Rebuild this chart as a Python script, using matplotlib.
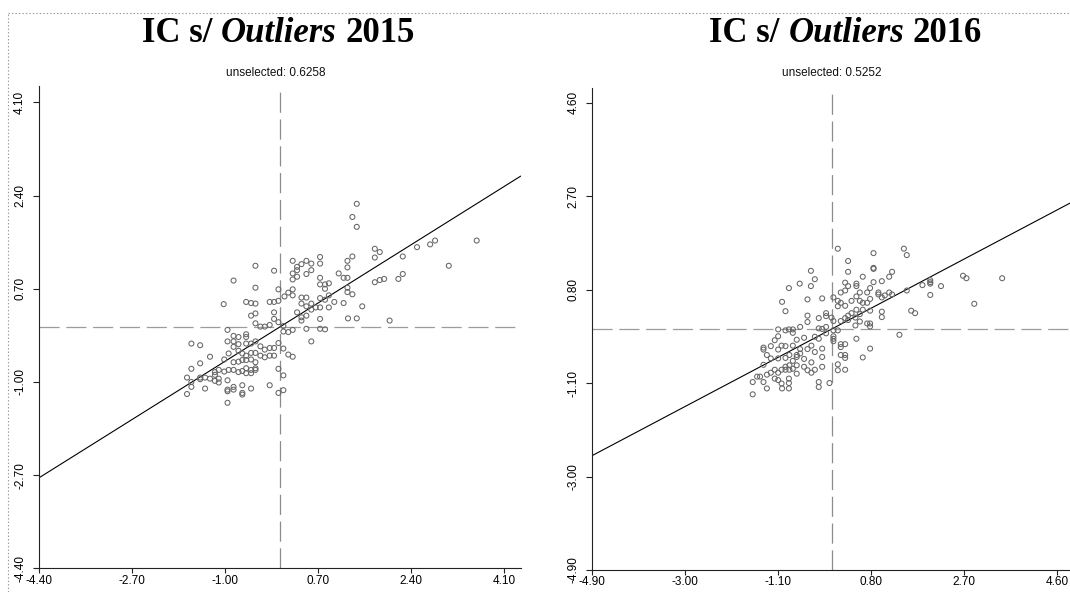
import matplotlib
matplotlib.use("Agg")
import matplotlib.pyplot as plt
from matplotlib.lines import Line2D

# Moran scatterplots: standardised value (x) vs. spatial lag (y)
titles = [("2015", "unselected: 0.6258"), ("2016", "unselected: 0.5252")]
slopes = [0.6258, 0.5252]
ticks_2015 = [-4.40, -2.70, -1.00, 0.70, 2.40, 4.10]
ticks_2016 = [-4.90, -3.00, -1.10, 0.80, 2.70, 4.60]

x_2015 = [1.41, 1.33, 1.41, 3.60, 2.84, 2.75, 2.51, 2.25, 3.09, 2.25, 2.17, 1.91, 1.83, 1.74, 2.01,
          1.74, 1.83, 1.74, 1.33, 1.24, 1.24, 1.17, 1.24, 1.08, 1.24, 1.33, 1.24, 1.51, 1.17, 1.25, 1.41,
          0.74, 0.74, 0.58, 0.49, 0.40, 0.32, 0.32, 0.24, 0.24, 0.32, 0.24, 0.58, 0.49, -0.44, -0.10, -0.84, -0.44,
          0.74, 0.74, 0.83, 0.90, 0.83, 0.74, 0.90, 0.83, 1.00, 0.90, 0.74, 0.66, 0.58, 0.58, 0.49, 0.40, 0.40,
          0.49, 0.32, 0.40, 0.49, 0.40, 0.74, 0.58, 0.49, 0.74, 0.83,
          -0.02, 0.16, 0.24, 0.09, 0.24, -0.10, -0.18, -0.02, -0.10, -0.10, -0.02, 0.07, 0.16, 0.24, 0.07,
          -0.18, -0.27, -0.35, -0.44, -0.44, -0.52, -0.44, -0.52, -0.61, -1.02,
          -0.95, -0.84, -0.75, -0.61, -0.61, -0.84, -0.95, -0.75, -0.61, -0.52, -0.44, -0.35, -0.27, -0.18, -0.10,
          -0.02, 0.07, 0.16, 0.24, -0.10, -0.18, -0.27, -0.35, -0.44, -0.52, -0.61, -0.68, -0.75, -0.84, -0.93,
          -1.01, -0.84, -0.75, -0.68, -0.61, -0.52, -0.44, -0.44, -0.52, -0.61, -0.44, -0.52, -0.61, -0.68, -0.75,
          -0.84, -0.93, -1.01, -1.11, -1.18, -1.18, -1.27, -1.36, -1.45, -1.45, -1.61, -1.69, -1.61, -1.69, -1.36,
          -1.11, -1.11, -1.18, -1.27, -1.45, -1.61, -1.61, -1.45,
          -0.95, -0.95, -0.95, -0.84, -0.84, -0.68, -0.68, -0.68, -0.52, -0.95, -0.18, -0.02, 0.07, -0.02, 0.07]
y_2015 = [2.25, 2.01, 1.83, 1.58, 1.58, 1.51, 1.46, 1.29, 1.12, 0.97, 0.88, 0.88, 0.86, 0.82, 0.12,
          1.43, 1.37, 1.27, 1.29, 1.21, 1.09, 0.90, 0.90, 0.98, 0.72, 0.60, 0.64, 0.38, 0.44, 0.16, 0.16,
          1.28, 1.16, 1.16, 1.21, 1.15, 1.10, 1.04, 1.21, 0.98, 0.92, 0.87, 1.04, 0.97, 1.12, 1.03, 0.85, 0.72,
          0.90, 0.78, 0.78, 0.80, 0.70, 0.53, 0.58, 0.50, 0.46, 0.36, 0.36, 0.36, 0.43, 0.32, 0.38, 0.43, 0.54,
          0.54, 0.27, 0.18, 0.21, 0.12, 0.15, -0.26, -0.03, -0.03, -0.04,
          0.69, 0.63, 0.69, 0.56, 0.58, 0.46, 0.46, 0.48, 0.27, 0.15, 0.09, 0.02, -0.09, -0.05, -0.08,
          0.04, 0.01, 0.01, 0.07, 0.25, 0.21, 0.43, 0.44, 0.46, 0.42,
          -0.05, -0.16, -0.18, -0.13, -0.18, -0.26, -0.26, -0.31, -0.30, -0.30, -0.26, -0.35, -0.41, -0.38, -0.38,
          -0.29, -0.39, -0.50, -0.54, -0.52, -0.52, -0.55, -0.52, -0.47, -0.47, -0.52, -0.48, -0.43, -0.36, -0.48,
          -0.59, -0.64, -0.63, -0.60, -0.60, -0.59, -0.64, -0.75, -0.78, -0.75, -0.78, -0.84, -0.84, -0.80, -0.82,
          -0.78, -0.78, -0.81, -0.78, -0.82, -0.87, -0.94, -0.92, -0.92, -0.95, -1.00, -0.92, -1.09, -1.22, -1.12,
          -0.94, -1.01, -0.98, -0.54, -0.66, -0.76, -0.30, -0.33,
          -0.97, -1.14, -1.17, -1.09, -1.14, -1.06, -1.20, -1.23, -1.12, -1.38, -1.06, -0.76, -0.88, -1.20, -1.15]

x_2016 = [0.12, 0.85, 1.47, 1.53, 0.33, 0.33, 0.85, 0.85, 0.63, 1.23, 1.17, 1.02, 0.85, -0.43, -0.35, -0.66, -0.43, -0.88,
          0.27, 0.50, 0.50, 0.33, 0.27, 0.18, 0.57, 0.72, 0.78, 0.95, 0.95, 1.02, 1.08, 1.17, 1.23, 1.53, 1.85,
          2.01, 2.01, 2.01, 2.23, 2.01, 2.68, 2.75, 3.48, 2.91, 1.62, 1.70, 1.38,
          0.03, 0.12, 0.18, 0.12, 0.27, 0.40, 0.50, 0.57, 0.63, 0.72, 0.78, 0.78, 0.63, 0.50, 0.40, 0.33, 0.27,
          0.18, 0.33, 0.48, 0.57, 0.57, 0.48, 0.72, 0.78, 0.78, 1.02, 1.02, 0.50, 0.78, 0.63,
          -0.20, -0.50, -1.02, -0.95, -0.50, -0.50, -0.27, -0.12, -0.12, -0.01, 0.03, -0.12, -0.20, -0.27, 0.03,
          0.12, -0.12, -0.27, 0.03, 0.03, 0.03, 0.18, 0.27, 0.18, 0.27, 0.27, 0.18, 0.12, 0.12, 0.27, -0.05,
          -0.27, -0.27,
          -0.65, -0.80, -0.88, -0.95, -1.10, -0.80, -1.10, -1.17, -0.72, -0.57, -0.35, -0.42, -0.50, -0.65, -0.80,
          -0.95, -1.03, -1.10, -1.25, -1.40, -1.40, -1.33, -1.25, -1.10, -0.95, -0.87, -0.72, -0.72, -0.65, -0.57,
          -0.42, -0.35, -0.20, -0.20, -0.20, -0.35, -0.42, -0.50, -0.57, -0.72, -0.80, -0.87, -0.95, -0.95, -0.87,
          -0.80, -0.72, -1.03, -1.10, -1.17, -1.25, -1.33, -1.40, -1.10, -1.17, -1.03, -0.88, -0.88, -1.02, -0.88,
          -1.33, -1.40, -1.47, -1.53, -1.62, -1.62]
y_2016 = [1.63, 1.54, 1.63, 1.50, 1.38, 1.16, 1.24, 1.22, 1.06, 1.16, 1.06, 0.97, 0.95, 1.18, 1.01, 0.92, 0.87, 0.83,
          0.94, 0.92, 0.87, 0.87, 0.78, 0.74, 0.74, 0.74, 0.83, 0.74, 0.70, 0.64, 0.68, 0.74, 0.70, 0.78, 0.89,
          0.99, 0.95, 0.92, 0.87, 0.69, 1.08, 1.03, 1.03, 0.51, 0.37, 0.32, -0.12,
          0.64, 0.57, 0.53, 0.46, 0.47, 0.57, 0.66, 0.57, 0.53, 0.53, 0.61, 0.37, 0.39, 0.39, 0.32, 0.27, 0.22,
          0.16, 0.18, 0.23, 0.30, 0.15, 0.07, 0.11, 0.11, 0.05, 0.35, 0.24, -0.20, -0.40, -0.58,
          0.62, 0.60, 0.55, 0.36, 0.27, 0.14, 0.22, 0.32, 0.26, 0.23, 0.16, 0.04, 0.00, 0.01, -0.03,
          -0.03, -0.09, -0.20, -0.15, -0.20, -0.25, -0.31, -0.31, -0.37, -0.53, -0.59, -0.53, -0.72, -0.84, -0.83, -1.10,
          -1.08, -1.18,
          0.04, -0.01, -0.01, -0.03, -0.01, -0.08, -0.15, -0.23, -0.22, -0.18, -0.16, -0.34, -0.41, -0.41, -0.34,
          -0.35, -0.34, -0.42, -0.35, -0.38, -0.42, -0.53, -0.60, -0.60, -0.59, -0.53, -0.53, -0.57, -0.50, -0.61,
          -0.68, -0.47, -0.40, -0.57, -0.77, -0.83, -0.89, -0.84, -0.77, -0.74, -0.65, -0.74, -0.77, -0.83, -0.83,
          -0.81, -0.91, -0.83, -0.89, -0.83, -0.89, -0.93, -0.73, -1.04, -1.01, -1.11, -1.10, -1.01, -1.21, -1.21,
          -1.21, -1.08, -0.97, -0.97, -1.08, -1.33]

W, H = 1070, 592
fig = plt.figure(figsize=(W / 100, H / 100), dpi=100)
fig.patch.set_facecolor("white")
plt.rcParams["lines.scale_dashes"] = False

# axes placed in pixel terms (left, bottom-from-top, right, top)
boxes = [(38.6, 568.3, 520.5, 86.0), (592.3, 570.0, 1071.6, 87.8)]
limits = [4.4, 4.9]
data = [(x_2015, y_2015, ticks_2015), (x_2016, y_2016, ticks_2016)]

for (l, b, r, t), lim, (xs, ys, tk), slope in zip(boxes, limits, data, slopes):
    ax = fig.add_axes([l / W, 1 - b / H, (r - l) / W, (b - t) / H])
    ax.set_xlim(-lim, lim)
    ax.set_ylim(-lim, lim)
    ax.axhline(0, color="#9c9c9c", lw=0.9, dashes=(14.5, 4.8), zorder=1)
    ax.axvline(0, color="#8c8c8c", lw=0.9, dashes=(14.5, 4.8), zorder=1)
    ax.axline((0, 0), slope=slope, color="black", lw=0.8, zorder=2)
    ax.scatter(xs, ys, s=13, facecolors="none", edgecolors="#666666", linewidths=0.75, zorder=3)
    for side in ("top", "right"):
        ax.spines[side].set_visible(False)
    for side in ("left", "bottom"):
        ax.spines[side].set_color("#222222")
        ax.spines[side].set_linewidth(0.8)
    ax.set_xticks(tk)
    ax.set_yticks(tk)
    ax.set_xticklabels([f"{v:.2f}" for v in tk], family="Liberation Sans", fontsize=8.5)
    ax.set_yticklabels([f"{v:.2f}" for v in tk], family="Liberation Sans", fontsize=8.5,
                       rotation=90, va="center")
    ax.tick_params(axis="x", length=3.5, width=0.8, pad=1, color="#222222")
    ax.tick_params(axis="y", length=4.5, width=0.8, pad=4.5, color="#222222")

# titles with italic "Outliers"
renderer = fig.canvas.get_renderer()
kw = dict(fontsize=25, fontweight="bold", family="Liberation Serif", va="baseline", ha="left")
p1 = fig.text(0, 0, "I I", **kw)
p2 = fig.text(0, 0, "II", **kw)
space = p1.get_window_extent(renderer).width - p2.get_window_extent(renderer).width
p1.remove()
p2.remove()

centers = [(278, 275.5), (845.6, 832)]
for (year, sub), (tc, sc) in zip(titles, centers):
    parts = [("IC s/", "normal"), ("Outliers", "italic"), (year, "normal")]
    items = [fig.text(0, 1 - 41.5 / H, s, fontstyle=st, **kw) for s, st in parts]
    widths = [t.get_window_extent(renderer).width for t in items]
    x = tc - (sum(widths) + space * (len(items) - 1)) / 2
    for t, w in zip(items, widths):
        t.set_x(x / W)
        x += w + space
    fig.text(sc / W, 1 - 73 / H, sub, family="Liberation Sans", fontsize=8.5,
             ha="center", va="center", color="#111111")

# dotted frame of the left panel
fig.add_artist(Line2D([7.5 / W, 1], [1 - 12.6 / H] * 2, transform=fig.transFigure,
                      color="#9a9a9a", lw=0.8, ls=(0, (1, 1.5))))
fig.add_artist(Line2D([7.5 / W] * 2, [0, 1 - 12.6 / H], transform=fig.transFigure,
                      color="#9a9a9a", lw=0.8, ls=(0, (1, 1.5))))

fig.savefig("out.png", dpi=100)
